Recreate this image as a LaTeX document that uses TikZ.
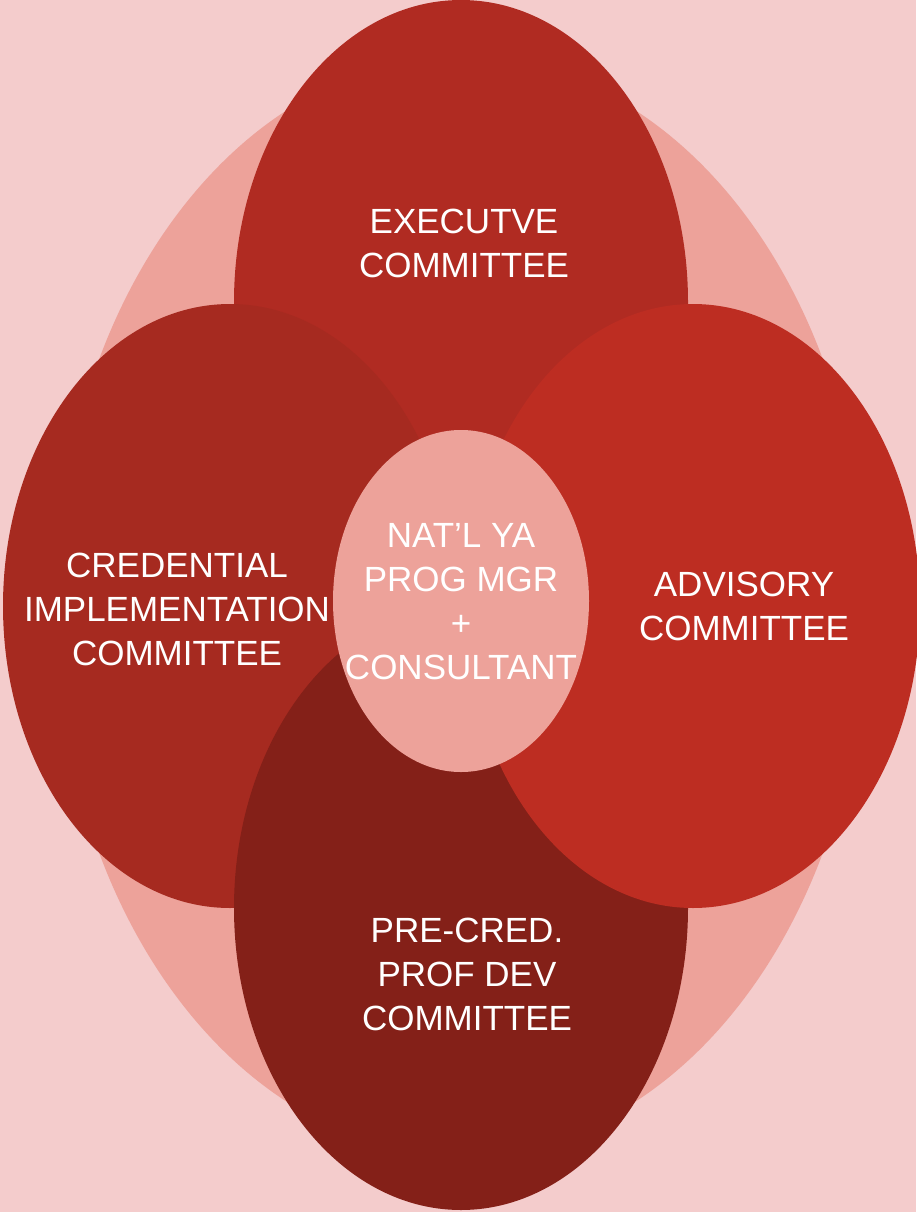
\documentclass[tikz,border=0pt]{standalone}
\usepackage{fontspec}
\setmainfont{Liberation Sans}
\usetikzlibrary{shapes.geometric}
\definecolor{bgpink}{HTML}{F4CCCC}
\definecolor{salmon}{HTML}{EDA29A}
\definecolor{ctop}{HTML}{B02B22}
\definecolor{cleft}{HTML}{A62A20}
\definecolor{cright}{HTML}{BD2D22}
\definecolor{cbottom}{HTML}{842018}
\tikzset{
  blob/.style={ellipse, inner sep=0pt, outer sep=0pt, draw=none},
  bigblob/.style={blob, minimum width=454pt, minimum height=604pt},
  label/.style={text=white, align=center, inner sep=0pt, font=\fontsize{35}{44}\selectfont}
}
\begin{document}
\begin{tikzpicture}[x=1pt,y=-1pt]
\useasboundingbox (0,0) rectangle (916,1212);
\fill[bgpink] (0,0) rectangle (916,1212);
\node[blob, fill=salmon, minimum width=810pt, minimum height=1098pt] (back) at (461,606) {};
\node[bigblob, fill=ctop] (exec) at (461,302) {};
\node[bigblob, fill=cleft] (cred) at (230,606) {};
\node[bigblob, fill=cbottom] (pre) at (461,908) {};
\node[bigblob, fill=cright] (adv) at (693,606) {};
\node[blob, fill=salmon, minimum width=256pt, minimum height=342pt] (mgr) at (461,601) {};
\node[label] (execT) at (464,243.5) {EXECUTVE\\COMMITTEE};
\node[label] (credT) at (177,609) {CREDENTIAL\\IMPLEMENTATION\\COMMITTEE};
\node[label] (advT) at (744,606) {ADVISORY\\COMMITTEE};
\node[label] (preT) at (467,974.5) {PRE-CRED.\\PROF DEV\\COMMITTEE};
\node[label] (mgrT) at (461,601.5) {NAT’L YA\\PROG MGR\\+\\CONSULTANT};
\end{tikzpicture}
\end{document}
